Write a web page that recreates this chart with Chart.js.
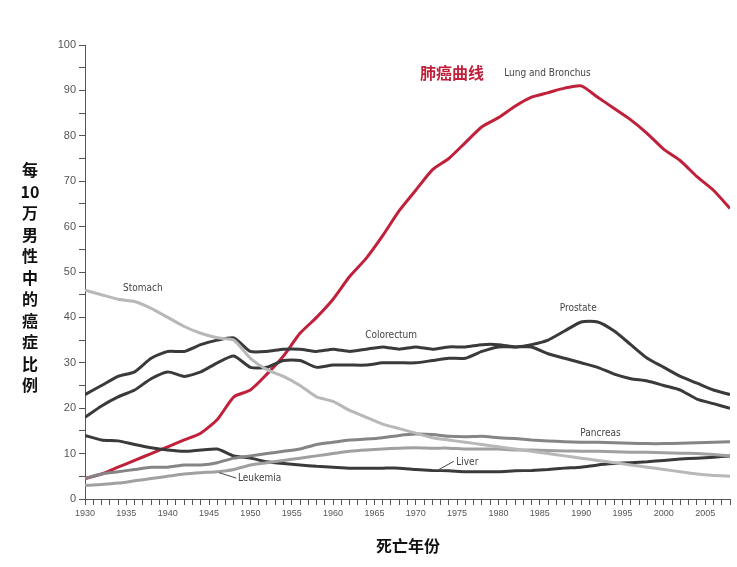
<!DOCTYPE html>
<html><head><meta charset="utf-8">
<script src="https://cdn.jsdelivr.net/npm/chart.js@4"></script>
<style>body{margin:0;background:#fff}#wrap{width:737px;height:567px}</style>
</head><body><div id="wrap"><canvas id="c"></canvas></div>
<script>
const years = [1930,1932,1934,1936,1938,1940,1942,1944,1946,1948,1950,1952,1954,1956,1958,1960,1962,1964,1966,1968,1970,1972,1974,1976,1978,1980,1982,1984,1986,1988,1990,1992,1994,1996,1998,2000,2002,2004,2006,2008];
const lung = [4.5,5.5,7,8.5,10,11.5,13,14.5,17.5,22.5,24,27.5,31.5,36.5,40,44,49,53,58,63.5,68,72.5,75,78.5,82,84,86.5,88.5,89.5,90.5,91,88.5,86,83.5,80.5,77,74.5,71,68,64];
const stomach = [46,45,44,43.5,42,40,38,36.5,35.5,35,31,28.5,27,25,22.5,21.5,19.5,18,16.5,15.5,14.5,13.5,13,12.5,12,11.5,11,10.5,10,9.5,9,8.5,8,7.5,7,6.5,6,5.5,5.2,5];
const colorectum = [23,25,27,28,31,32.5,32.5,34,35,35.5,32.5,32.5,33,33,32.5,33,32.5,33,33.5,33,33.5,33,33.5,33.5,34,34,33.5,33.5,32,31,30,29,27.5,26.5,26,25,24,22,21,20];
const prostate = [18,20.5,22.5,24,26.5,28,27,28,30,31.5,29,29,30.5,30.5,29,29.5,29.5,29.5,30,30,30,30.5,31,31,32.5,33.5,33.5,34,35,37,39,39,37,34,31,29,27,25.5,24,23];
const liver = [14,13,12.8,12,11.3,10.8,10.5,10.8,11,9.5,9,8.2,7.8,7.5,7.2,7,6.8,6.8,6.8,6.8,6.5,6.3,6.2,6,6,6,6.2,6.3,6.5,6.8,7,7.5,7.8,8,8.2,8.5,8.8,9,9.2,9.5];
const pancreas = [4.5,5.5,6,6.5,7,7,7.5,7.5,8,9,9.5,10,10.5,11,12,12.5,13,13.2,13.5,14,14.3,14.2,13.8,13.7,13.8,13.5,13.3,13,12.8,12.6,12.5,12.5,12.4,12.3,12.2,12.2,12.3,12.4,12.5,12.6];
const leukemia = [3,3.2,3.5,4,4.5,5,5.5,5.8,6,6.5,7.5,8,8.5,9,9.5,10,10.5,10.8,11,11.2,11.3,11.2,11.2,11,11,11,10.8,10.8,10.7,10.6,10.5,10.5,10.4,10.3,10.3,10.2,10.1,10,9.8,9.5];

const pts = arr => arr.map((v, i) => ({x: years[i], y: v}));
function series(label, arr, color) {
  return {label, data: pts(arr), borderColor: color, borderWidth: 3, pointRadius: 0, tension: 0.2, fill: false};
}

// text labels placed in data coordinates
const labels = [
  {t: "Stomach", x: 1934.6, y: 46.3},
  {t: "Colorectum", x: 1963.9, y: 36.1},
  {t: "Prostate", x: 1987.4, y: 42},
  {t: "Pancreas", x: 1989.9, y: 14.5},
  {t: "Liver", x: 1974.9, y: 8.1},
  {t: "Leukemia", x: 1948.5, y: 4.6},
  {t: "Lung and Bronchus", x: 1980.7, y: 93.8}
];

const annot = {
  id: "annot",
  afterDatasetsDraw(chart) {
    const {ctx, scales: {x, y}} = chart;
    ctx.save();
    ctx.fillStyle = "#444";
    ctx.font = "10px 'Liberation Sans Narrow', 'DejaVu Sans Condensed', sans-serif";
    ctx.textBaseline = "middle";
    labels.forEach(l => ctx.fillText(l.t, x.getPixelForValue(l.x), y.getPixelForValue(l.y)));
    // leader lines
    ctx.strokeStyle = "#444"; ctx.lineWidth = 1;
    ctx.beginPath();
    ctx.moveTo(x.getPixelForValue(1974.6), y.getPixelForValue(8.3));
    ctx.lineTo(x.getPixelForValue(1972.8), y.getPixelForValue(6.5));
    ctx.moveTo(x.getPixelForValue(1948.3), y.getPixelForValue(4.6));
    ctx.lineTo(x.getPixelForValue(1946.2), y.getPixelForValue(5.8));
    ctx.stroke();
    ctx.fillStyle = "#c0203a";
    ctx.font = "bold 16px 'Noto Sans CJK SC'";
    ctx.fillText("肺癌曲线", x.getPixelForValue(1970.5), y.getPixelForValue(93.8));
    // axis titles
    ctx.fillStyle = "#111";
    ctx.font = "bold 16px 'Noto Sans CJK SC'";
    ctx.textAlign = "center";
    ctx.fillText("死亡年份", 408, 546);
    const chars = ["每", "10", "万", "男", "性", "中", "的", "癌", "症", "比", "例"];
    chars.forEach((c, i) => ctx.fillText(c, 30, 170 + i * 21.5));
    ctx.restore();
  }
};

const tickFont = {size: 9, family: "'Liberation Sans Narrow', sans-serif"};
new Chart(document.getElementById("c"), {
  type: "line",
  data: {
    datasets: [
      series("Stomach", stomach, "#b8b8b8"),
      series("Leukemia", leukemia, "#a0a0a0"),
      series("Pancreas", pancreas, "#858585"),
      series("Liver", liver, "#3a3a3a"),
      series("Colorectum", colorectum, "#3a3a3a"),
      series("Prostate", prostate, "#3a3a3a"),
      series("Lung and Bronchus", lung, "#c0203a")
    ]
  },
  options: {
    responsive: true, maintainAspectRatio: false, animation: false,
    layout: {padding: {top: 45, right: 7, left: 0, bottom: 0}},
    plugins: {legend: {display: false}, tooltip: {enabled: false}},
    scales: {
      x: {
        type: "linear", min: 1930, max: 2008,
        afterFit: s => { s.height = 68; },
        border: {color: "#555"},
        grid: {drawOnChartArea: false, tickLength: 6, color: "#555"},
        ticks: {stepSize: 1, maxTicksLimit: 200, autoSkip: false, maxRotation: 0, color: "#555", font: tickFont,
          callback: v => v % 5 === 0 ? v : ""}
      },
      y: {
        min: 0, max: 100,
        afterFit: s => { s.width = 85; },
        border: {color: "#555"},
        grid: {drawOnChartArea: false, tickLength: 6, color: "#555"},
        ticks: {stepSize: 5, color: "#555", font: {size: 11, family: "'Liberation Sans Narrow', sans-serif"},
          callback: v => v % 10 === 0 ? v : ""}
      }
    }
  },
  plugins: [annot]
});
</script></body></html>
